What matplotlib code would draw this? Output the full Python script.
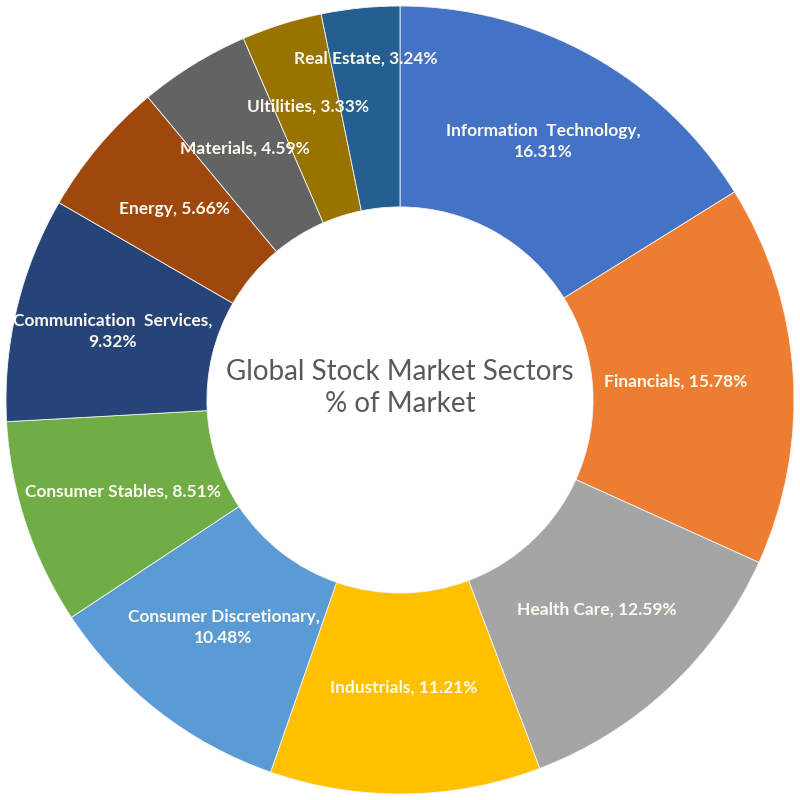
import numpy as np
import matplotlib
matplotlib.use("Agg")
import matplotlib.pyplot as plt

plt.rcParams["font.family"] = ["Lato", "DejaVu Sans"]

# sectors, clockwise from 12 o'clock
sectors = [
    "Information  Technology,", "Financials,", "Health Care,", "Industrials,",
    "Consumer Discretionary,", "Consumer Stables,", "Communication  Services,",
    "Energy,", "Materials,", "Ultilities,", "Real Estate,",
]
shares = [16.31, 15.78, 12.59, 11.21, 10.48, 8.51, 9.32, 5.66, 4.59, 3.33, 3.24]
two_line = [True, False, False, False, True, False, True, False, False, False, False]
colors = [
    "#4472C4", "#ED7D31", "#A5A5A5", "#FFC000", "#5B9BD5", "#70AD47",
    "#264478", "#9E480E", "#636363", "#997300", "#255E91",
]
label_r = [0.75, 0.70, 0.73, 0.73, 0.73, 0.74, 0.75, 0.75, 0.75, 0.78, 0.87]


def main():
    fig = plt.figure(figsize=(8, 8), dpi=100)
    ax = fig.add_axes([0, 0, 1, 1])
    wedges, _ = ax.pie(
        shares,
        colors=colors,
        startangle=90,
        counterclock=False,
        radius=1.0,
        wedgeprops=dict(width=0.51, edgecolor="#f4f4f4", linewidth=0.6),
    )
    s = 400 / 394
    ax.set_xlim(-s, s)
    ax.set_ylim(-s, s)
    ax.set_aspect("equal")
    ax.axis("off")

    for w, name, val, tl, r in zip(wedges, sectors, shares, two_line, label_r):
        mid = np.deg2rad((w.theta1 + w.theta2) / 2)
        sep = "\n" if tl else " "
        ax.text(
            r * np.cos(mid), r * np.sin(mid), f"{name}{sep}{val:.2f}%",
            ha="center", va="center", fontsize=12.5, color="#fdfbf0",
            fontweight="bold", linespacing=1.4,
        )

    ax.text(0, 0.03, "Global Stock Market Sectors\n% of Market", ha="center",
            va="center", fontsize=20, color="#595959", linespacing=1.3)

    fig.savefig("out.png", dpi=100, facecolor="white")
    plt.close(fig)


if __name__ == "__main__":
    main()
